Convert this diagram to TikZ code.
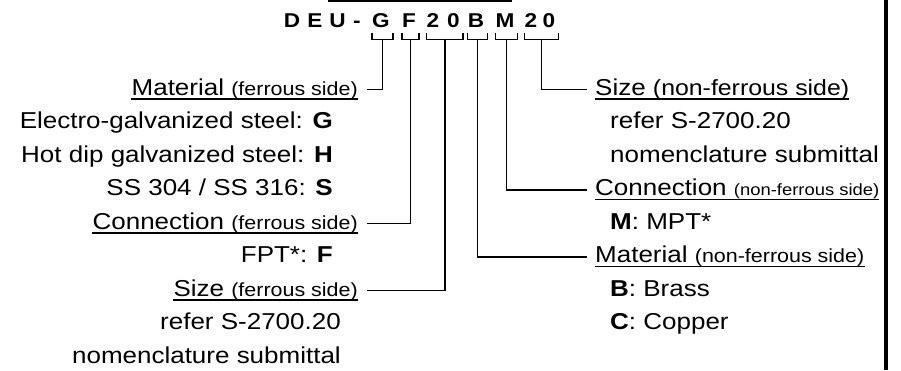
\documentclass[tikz,border=0pt]{standalone}
\usepackage{fontspec}
\setmainfont{Liberation Sans}[FakeStretch=1.13]
\usetikzlibrary{positioning,calc}

\newcommand\sidenote[2][19]{{\fontsize{#1}{#1}\selectfont #2}}
\newcommand\codebrace[3]{%
  \draw[brace] (#1.west |- braceTop) -- (#1.west |- braceBot)
    -- ([xshift=3pt]#2.east |- braceBot) -- ([xshift=3pt]#2.east |- braceTop);
  \coordinate (#3) at ($(#1.west |- braceBot)!0.5!([xshift=3pt]#2.east |- braceBot)$);
}

\tikzset{
    codechar/.style = {inner sep=0pt, anchor=base, font=\fontsize{20}{20}\selectfont\bfseries},
    headleft/.style = {inner sep=0pt, anchor=base east, font=\fontsize{23}{24}\selectfont},
    headright/.style = {inner sep=0pt, anchor=base west, font=\fontsize{23}{24}\selectfont},
    itemleft/.style = {inner sep=0pt, anchor=base east, font=\fontsize{23}{24}\selectfont},
    itemright/.style = {inner sep=0pt, anchor=base west, font=\fontsize{23}{24}\selectfont},
    brace/.style = {line width=1.6pt},
    wire/.style = {line width=1.8pt},
    uline/.style = {line width=1.6pt}
}

\begin{document}
\begin{tikzpicture}[x=1pt, y=-1pt]
    \useasboundingbox (0,0) rectangle (901,370);

    % rules
    \draw[wire] (328,1) -- (512,1);
    \draw[line width=4pt] (886,0) -- (886,370);

    % code letters
    \foreach \ch/\px/\nm in {D/292/cd, E/315/ce, U/337.5/cu, -/357/cdash, G/381/cg, F/409/cf,
                             2/433/csa, 0/453.5/csb, B/476/cb, M/505/cm, 2/531/cta, 0/549/ctb}
        \node[codechar] (\nm) at (\px,27) {\ch};

    \coordinate (braceTop) at (0,33);
    \coordinate (braceBot) at (0,39.5);
    \codebrace{cg}{cg}{gmid}
    \codebrace{cf}{cf}{fmid}
    \codebrace{csa}{csb}{sfmid}
    \codebrace{cb}{cb}{bmid}
    \codebrace{cm}{cm}{mmid}
    \codebrace{cta}{ctb}{snmid}

    % ferrous side
    \node[headleft] (matF) at (358,95) {Material \sidenote{(ferrous side)}};
    \node[itemleft] (matFg) at (333,128.5) {Electro-galvanized steel: \textbf{G}};
    \node[itemleft] (matFh) at (333,162) {Hot dip galvanized steel: \textbf{H}};
    \node[itemleft] (matFs) at (333,195.5) {SS 304 / SS 316: \textbf{S}};
    \node[headleft] (conF) at (358,229) {Connection \sidenote{(ferrous side)}};
    \node[itemleft] (conFf) at (333,262.5) {FPT*: \textbf{F}};
    \node[headleft] (sizF) at (358,296) {Size \sidenote{(ferrous side)}};
    \node[itemleft] (sizFa) at (341,329.5) {refer S-2700.20};
    \node[itemleft] (sizFb) at (341,363) {nomenclature submittal};

    % non-ferrous side
    \node[headright] (sizN) at (595,95) {Size \sidenote[22]{(non-ferrous side)}};
    \node[itemright] (sizNa) at (610,128.5) {refer S-2700.20};
    \node[itemright] (sizNb) at (610,162) {nomenclature submittal};
    \node[headright] (conN) at (595,195.5) {Connection \sidenote[16.3]{(non-ferrous side)}};
    \node[itemright] (conNm) at (610,229) {\textbf{M}: MPT*};
    \node[headright] (matN) at (595,262.5) {Material \sidenote[19]{(non-ferrous side)}};
    \node[itemright] (matNb) at (610,296) {\textbf{B}: Brass};
    \node[itemright] (matNc) at (610,329.5) {\textbf{C}: Copper};

    \foreach \h in {matF,conF,sizF,sizN,conN,matN}
        \draw[uline] ([yshift=-4pt]\h.base west) -- ([yshift=-4pt]\h.base east);

    % connectors
    \draw[wire] (gmid) |- ([xshift=9pt,yshift=5.5pt]matF.base east);
    \draw[wire] (fmid) |- ([xshift=9pt,yshift=5.5pt]conF.base east);
    \draw[wire] (sfmid) |- ([xshift=9pt,yshift=5.5pt]sizF.base east);
    \draw[wire] (bmid) |- ([xshift=-8pt,yshift=5.5pt]matN.base west);
    \draw[wire] (mmid) |- ([xshift=-8pt,yshift=5.5pt]conN.base west);
    \draw[wire] (snmid) |- ([xshift=-8pt,yshift=5.5pt]sizN.base west);
\end{tikzpicture}
\end{document}
